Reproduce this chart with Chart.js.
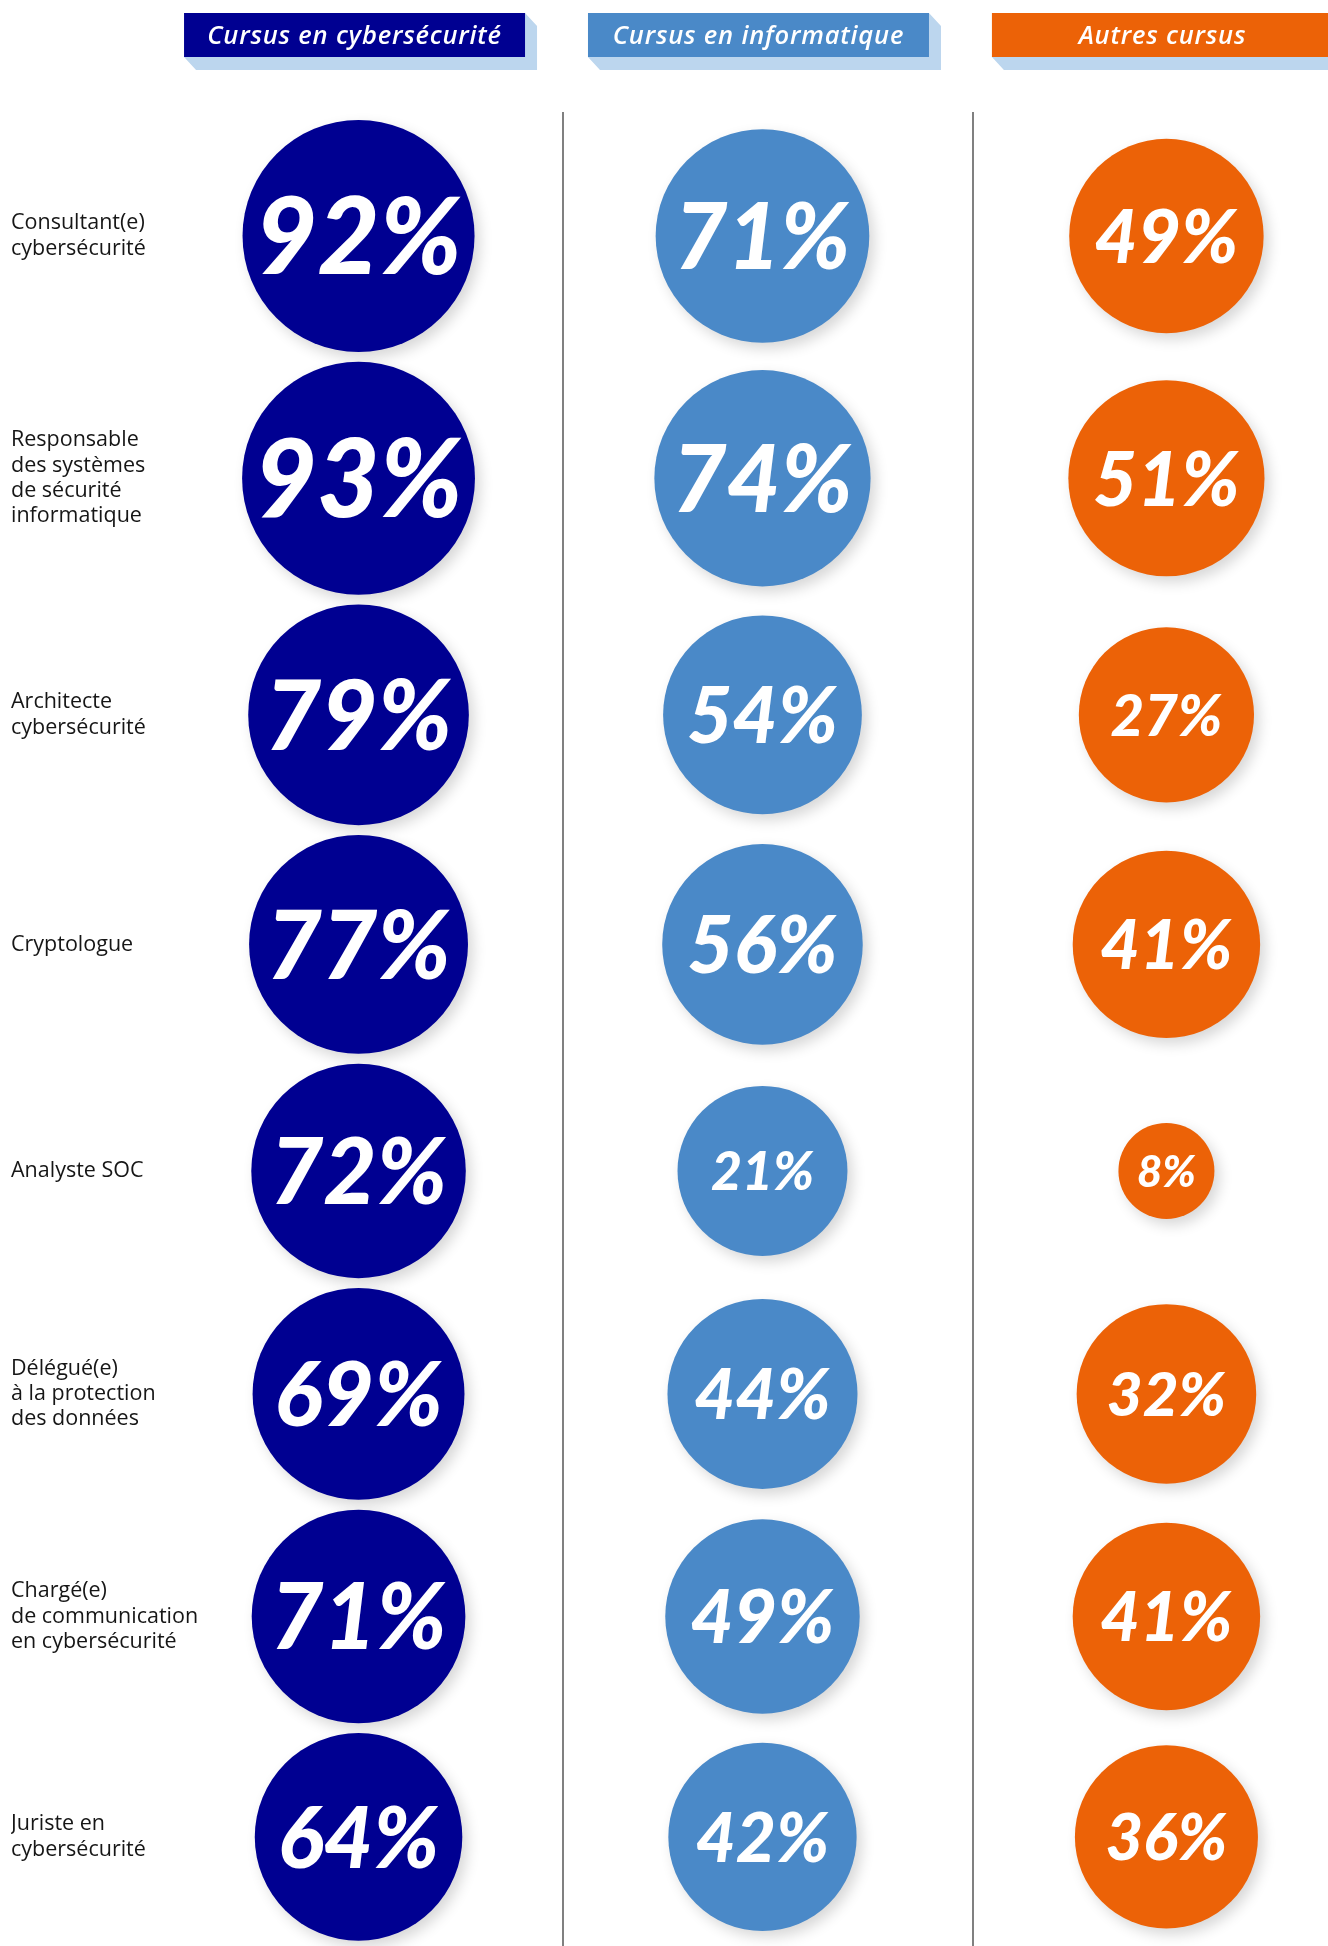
<!DOCTYPE html>
<html lang="fr">
<head>
<meta charset="utf-8">
<title>Cursus et métiers de la cybersécurité</title>
<script src="https://cdn.jsdelivr.net/npm/chart.js@4.4.1/dist/chart.umd.min.js"></script>
<style>
    html, body { margin: 0; padding: 0; background: #fff; }
    #wrap { position: relative; width: 1328px; height: 1946px; }
</style>
</head>
<body>
<div id="wrap"><canvas id="chart"></canvas></div>
<script>
'use strict';

// ── Data ─────────────────────────────────────────────
const cursus = ['Cursus en cybersécurité', 'Cursus en informatique', 'Autres cursus'];

const metiers = [
    ['Consultant(e)', 'cybersécurité'],
    ['Responsable', 'des systèmes', 'de sécurité', 'informatique'],
    ['Architecte', 'cybersécurité'],
    ['Cryptologue'],
    ['Analyste SOC'],
    ['Délégué(e)', 'à la protection', 'des données'],
    ['Chargé(e)', 'de communication', 'en cybersécurité'],
    ['Juriste en', 'cybersécurité'],
];

const pctCyber  = [92, 93, 79, 77, 72, 69, 71, 64];
const pctInfo   = [71, 74, 54, 56, 21, 44, 49, 42];
const pctAutres = [49, 51, 27, 41,  8, 32, 41, 36];

const series = [pctCyber, pctInfo, pctAutres];
const colors = ['#000091', '#4a89c8', '#ec6207'];

// ── Sizing helpers ───────────────────────────────────
// small shares shrink proportionally, the rest grow gently with the value
function bubbleRadius(v) {
    return Math.min(v * 6, 75.8 + v * 0.437);
}

// cap height of the percentage, in px
function labelCap(v) {
    return 27 + v * 0.54;
}

// rows are stacked from the biggest bubble of each row
const HEAD = 120;
const GAP  = 9.8;
const rowY = [];
metiers.forEach((m, i) => {
    const r = Math.max(...series.map(s => bubbleRadius(s[i])));
    if (i === 0) { rowY.push(HEAD + r); return; }
    const prev = Math.max(...series.map(s => bubbleRadius(s[i - 1])));
    rowY.push(rowY[i - 1] + prev + GAP + r);
});

// ── Plugins ──────────────────────────────────────────
const decor = {
    id: 'decor',
    beforeDatasetsDraw(chart) {
        const { ctx, scales: { x }, chartArea } = chart;

        // column separators
        ctx.save();
        ctx.strokeStyle = '#808080';
        ctx.lineWidth = 2;
        [0.505, 1.52].forEach(v => {
            const px = Math.round(x.getPixelForValue(v));
            ctx.beginPath();
            ctx.moveTo(px, 112);
            ctx.lineTo(px, chartArea.bottom);
            ctx.stroke();
        });

        // column headers with their pale extruded shadow
        const w = 341, h = 44, top = 13, dx = 12, dy = 13;
        cursus.forEach((name, i) => {
            const cx = x.getPixelForValue(i) - 4;
            const x0 = cx - w / 2, x1 = cx + w / 2, y0 = top, y1 = top + h;
            ctx.fillStyle = '#bcd6ee';
            ctx.beginPath();
            ctx.moveTo(x0, y1);
            ctx.lineTo(x0 + dx, y1 + dy);
            ctx.lineTo(x1 + dx, y1 + dy);
            ctx.lineTo(x1 + dx, y0 + dy);
            ctx.lineTo(x1, y0);
            ctx.lineTo(x1, y1);
            ctx.closePath();
            ctx.fill();
            ctx.fillStyle = colors[i];
            ctx.fillRect(x0, y0, w, h);
            ctx.fillStyle = '#fff';
            ctx.font = 'italic 600 25.5px "Open Sans"';
            ctx.letterSpacing = '0.8px';
            ctx.textAlign = 'center';
            ctx.textBaseline = 'alphabetic';
            ctx.fillText(name, cx, y0 + h / 2 + 9);
        });
        ctx.restore();

        // soft drop shadow under the bubbles
        ctx.save();
        ctx.shadowColor = 'rgba(0,0,0,0.16)';
        ctx.shadowBlur = 14;
        ctx.shadowOffsetX = 5;
        ctx.shadowOffsetY = 6;
    },
    afterDatasetsDraw(chart) {
        const { ctx } = chart;
        ctx.restore();

        ctx.save();
        ctx.fillStyle = '#fff';
        ctx.textAlign = 'center';
        ctx.textBaseline = 'alphabetic';
        chart.data.datasets.forEach((ds, di) => {
            chart.getDatasetMeta(di).data.forEach((pt, i) => {
                const v = ds.data[i].v;
                const cap = labelCap(v);
                ctx.font = `italic 900 ${(cap / 0.7165).toFixed(1)}px Lato`;
                ctx.fillText(v + '%', pt.x, pt.y + cap / 2);
            });
        });
        ctx.restore();
    },
};

// ── Chart ────────────────────────────────────────────
new Chart(document.getElementById('chart'), {
    type: 'bubble',
    data: {
        datasets: series.map((s, col) => ({
            label: cursus[col],
            data: s.map((v, i) => ({ x: col, y: rowY[i], r: bubbleRadius(v), v })),
            backgroundColor: colors[col],
            borderWidth: 0,
            hoverBorderWidth: 0,
            clip: false,
        })),
    },
    options: {
        responsive: true,
        maintainAspectRatio: false,
        animation: false,
        events: [],
        layout: { autoPadding: false, padding: { left: 11, right: 0, top: 0, bottom: 0 } },
        plugins: { legend: { display: false }, tooltip: { enabled: false } },
        scales: {
            x: { type: 'linear', min: -0.39, max: 2.4, display: false },
            y: {
                type: 'linear',
                reverse: true,
                min: 0,
                max: 1946,
                grid: { display: false },
                border: { display: false },
                afterBuildTicks: s => { s.ticks = rowY.map(v => ({ value: v })); },
                afterFit: s => { s.width = 190; s.paddingTop = 0; s.paddingBottom = 0; },
                ticks: {
                    autoSkip: false,
                    crossAlign: 'far',
                    padding: 0,
                    color: '#161616',
                    font: { family: '"Open Sans"', size: 21.5, lineHeight: 1.18 },
                    callback: (value, index) => metiers[index],
                },
            },
        },
    },
    plugins: [decor],
});
</script>
</body>
</html>
